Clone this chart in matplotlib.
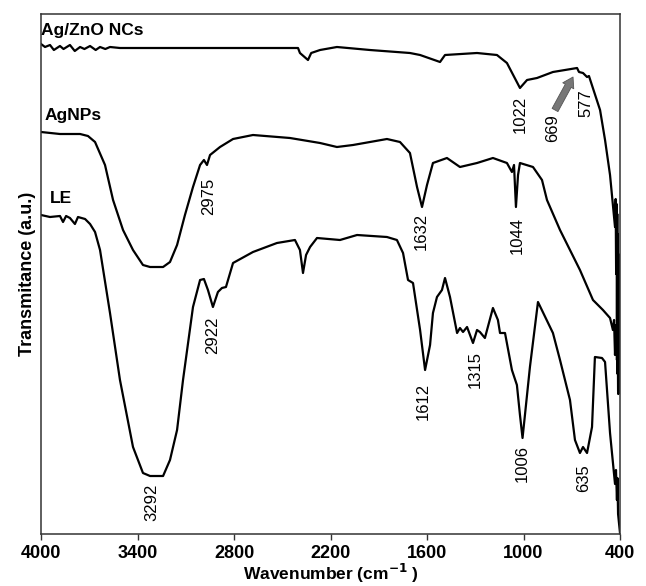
import matplotlib
matplotlib.use("Agg")
import matplotlib.pyplot as plt

plt.rcParams['font.family'] = ['Liberation Sans', 'DejaVu Sans']

# ---------------- data (wavenumber in cm-1, transmittance in a.u.) ----------------
agzno_wn = [4000, 3975, 3944, 3920, 3882, 3860, 3820, 3790, 3757, 3730, 3695, 3660,
            3633, 3600, 3571, 3509, 3322, 3011, 2700, 2402, 2390, 2340, 2320, 2265,
            2160, 1955, 1706, 1643, 1519, 1488, 1289, 1165, 1103, 1022, 978, 916,
            817, 667, 655, 630, 605, 593, 524, 493, 462, 431, 427, 424, 421, 419,
            417, 415, 413, 411, 409, 407, 406]
agzno_t = [490, 487, 489, 484, 488, 485, 489, 483, 487, 485, 488, 484,
           487, 485, 487, 486, 486, 486, 486, 486, 481, 474, 481, 484,
           487, 484, 481, 479, 472, 479, 481, 479, 471, 446, 454, 456,
           462, 466, 462, 461, 457, 458, 424, 394, 359, 307, 335, 260, 330, 190,
           320, 160, 300, 140, 280, 150, 141]

agnps_wn = [4000, 3882, 3757, 3708, 3664, 3602, 3552, 3490, 3428, 3366, 3322, 3241,
            3198, 3154, 3105, 3055, 3011, 2987, 2968, 2949, 2887, 2806, 2682, 2452,
            2265, 2160, 2060, 1849, 1768, 1706, 1662, 1631, 1600, 1563, 1476, 1395,
            1289, 1190, 1103, 1072, 1059, 1047, 1034, 1022, 941, 885, 854, 773,
            649, 568, 506, 462, 444, 437, 431, 425, 419, 414, 412]
agnps_t = [402, 400, 400, 398, 392, 369, 334, 304, 284, 269, 267, 267,
           272, 289, 319, 347, 369, 374, 369, 379, 387, 395, 399, 396,
           391, 387, 389, 395, 392, 381, 347, 327, 349, 371, 376, 367,
           371, 376, 371, 362, 369, 327, 359, 371, 367, 354, 334, 304,
           264, 234, 224, 216, 204, 214, 179, 209, 174, 200, 144]

le_wn = [4000, 3944, 3882, 3863, 3844, 3820, 3789, 3770, 3726, 3695, 3664, 3633,
         3571, 3509, 3428, 3366, 3322, 3241, 3198, 3154, 3117, 3055, 3011, 2987,
         2962, 2931, 2900, 2875, 2850, 2806, 2682, 2533, 2421, 2390, 2371, 2352,
         2327, 2284, 2141, 2035, 1849, 1787, 1749, 1718, 1687, 1643, 1612, 1581,
         1563, 1538, 1507, 1488, 1457, 1413, 1395, 1376, 1351, 1314, 1289, 1271,
         1240, 1190, 1159, 1146, 1115, 1072, 1041, 1022, 1006, 991, 960, 910,
         817, 773, 711, 680, 649, 630, 605, 574, 556, 512, 493, 462, 431, 425,
         419, 416, 412, 400]
le_t = [319, 317, 318, 312, 318, 316, 310, 317, 315, 310, 302, 284,
        221, 154, 87, 61, 58, 58, 74, 104, 154, 227, 254, 255,
        244, 227, 242, 246, 247, 271, 282, 291, 294, 284, 261, 279,
        287, 296, 294, 299, 297, 294, 281, 254, 251, 204, 164, 189,
        221, 237, 244, 256, 237, 201, 206, 202, 207, 191, 204, 202,
        196, 226, 214, 201, 201, 164, 149, 119, 96, 119, 167, 232,
        201, 174, 134, 94, 81, 87, 81, 107, 177, 176, 172, 101, 50, 64,
        34, 56, 20, 1]

series_names = ["Ag/ZnO NCs", "AgNPs", "LE"]
series_label_pos = [(4000, 499), (3975, 414), (3945, 331)]

peak_labels = ["1022", "669", "577", "2975", "1632", "1044", "2922", "1612",
               "1315", "1006", "635", "3292"]
peak_label_pos = [(1022, 420), (817, 406), (611, 431), (2955, 338), (1637, 303),
                  (1040, 298), (2931, 199), (1625, 133), (1302, 164), (1009, 71),
                  (624, 56), (3310, 32)]

arrow_tail = (804, 424)
arrow_head = (692, 457)

xticks = [4000, 3400, 2800, 2200, 1600, 1000, 400]

# ---------------- figure ----------------
fig = plt.figure(figsize=(6.46, 5.86), dpi=100)
ax = fig.add_axes([41 / 646, 52 / 586, 579 / 646, 520 / 586])

lw = 1.6
ax.plot(agzno_wn, agzno_t, color='black', lw=lw, solid_joinstyle='round')
ax.plot(agnps_wn, agnps_t, color='black', lw=lw, solid_joinstyle='round')
ax.plot(le_wn, le_t, color='black', lw=lw, solid_joinstyle='round')

ax.set_xlim(4000, 400)
ax.set_ylim(0, 520)
ax.set_xticks(xticks)
ax.set_xticklabels([str(v) for v in xticks], fontsize=13, fontweight='bold')
ax.set_yticks([])
ax.tick_params(axis='x', direction='out', length=4, width=1.0, pad=4, color='#333333')

for sp in ax.spines.values():
    sp.set_linewidth(1.1)
    sp.set_color('#333333')

ax.set_xlabel("Wavenumber (cm$^{\\mathbf{-1}}$ )", fontsize=12.5, fontweight='bold', labelpad=0)
ax.set_ylabel("Transmitance (a.u.)", fontsize=13, fontweight='bold')
ax.yaxis.set_label_coords(-0.008, 0.5)

for name, (x, y) in zip(series_names, series_label_pos):
    ax.text(x, y, name, fontsize=12.5, fontweight='bold', ha='left', va='baseline')

for lab, (x, y) in zip(peak_labels, peak_label_pos):
    ax.text(x, y, lab, fontsize=12, rotation=90, ha='center', va='center')

ax.annotate('', xy=arrow_head, xytext=arrow_tail,
            arrowprops=dict(arrowstyle='simple,head_length=0.6,head_width=0.75,tail_width=0.4',
                            facecolor='#777777', edgecolor='#555555', lw=0.6,
                            mutation_scale=12, shrinkA=0, shrinkB=0))

fig.savefig("out.png", dpi=100)
